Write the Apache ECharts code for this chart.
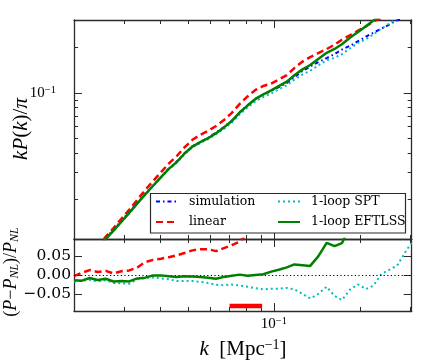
<!DOCTYPE html>
<html><head><meta charset="utf-8">
<script src="https://cdn.jsdelivr.net/npm/echarts@6/dist/echarts.min.js"></script>
<style>html,body{margin:0;padding:0;background:#fff}#c{width:436px;height:363px}</style>
</head><body><div id="c"></div>
<script>
// ---- data ----
const k = [0.0200,0.0213,0.0227,0.0242,0.0258,0.0275,0.0293,0.0312,0.0333,0.0355,0.0378,0.0403,0.0429,0.0457,0.0487,0.0519,0.0553,0.0589,0.0628,0.0669,0.0713,0.0760,0.0809,0.0862,0.0919,0.0979,0.104,0.111,0.118,0.126,0.134,0.143,0.153,0.163,0.173,0.185,0.197,0.210,0.223,0.238,0.254,0.270,0.288,0.303];
const simulation = [0.0066,0.0075,0.0085,0.0097,0.0111,0.0127,0.0145,0.0166,0.0190,0.0217,0.0246,0.0280,0.0318,0.0353,0.0401,0.0446,0.0477,0.0507,0.0549,0.0596,0.0655,0.0744,0.0826,0.0911,0.0975,0.1027,0.1091,0.1159,0.1268,0.1388,0.1485,0.1589,0.1688,0.1792,0.1918,0.2037,0.2180,0.2330,0.2480,0.2630,0.2810,0.2990,0.3150,0.3240];
const linear = [0.00675,0.00767,0.0087,0.00992,0.01136,0.01299,0.01494,0.0171,0.01987,0.02305,0.02632,0.03018,0.03428,0.03834,0.04387,0.04919,0.05299,0.05633,0.06055,0.06622,0.07388,0.08452,0.09458,0.1043,0.1108,0.1149,0.1221,0.1307,0.1452,0.1602,0.1714,0.1819,0.1933,0.2068,0.2229,0.2385,0.2553,0.2728,0.2926,0.3103,0.3316,0.3528,0.3717,0.3823];
const oneLoopSPT = [0.00648,0.00739,0.00839,0.00954,0.01094,0.01243,0.01418,0.01622,0.01875,0.0215,0.0244,0.02775,0.03145,0.03474,0.03946,0.04389,0.04684,0.04964,0.05347,0.05799,0.06386,0.07232,0.08004,0.08791,0.0938,0.099,0.1052,0.112,0.122,0.1319,0.1393,0.151,0.1636,0.1693,0.1791,0.196,0.2126,0.2244,0.2411,0.2638,0.2849,0.3065,0.3339,0.3515];
const oneLoopEFT = [0.00651,0.00739,0.00843,0.00957,0.01099,0.01248,0.01427,0.01632,0.01883,0.02157,0.02458,0.02797,0.0317,0.03512,0.03998,0.04442,0.04746,0.05035,0.05435,0.0593,0.06537,0.07447,0.08243,0.0911,0.0977,0.1036,0.1106,0.1182,0.1304,0.1424,0.1521,0.1667,0.1828,0.1937,0.2081,0.2302,0.2507,0.2726,0.2976,0.3235,0.3541,0.3857,0.4158,0.4342];
const linearRatio = [-0.003,0.006,0.013,0.008,0.011,0.004,0.010,0.012,0.020,0.034,0.040,0.043,0.047,0.052,0.058,0.065,0.068,0.068,0.063,0.071,0.079,0.088,0.110,0.130,0.130,0.120,0.120,0.130,0.140,0.150,0.150,0.150,0.150,0.160,0.160,0.170,0.170,0.170,0.180,0.180,0.180,0.180,0.180,0.180];
const sptRatio = [-0.018,-0.015,-0.013,-0.017,-0.014,-0.021,-0.022,-0.023,-0.011,-0.008,-0.006,-0.009,-0.011,-0.016,-0.016,-0.016,-0.018,-0.021,-0.026,-0.027,-0.025,-0.028,-0.031,-0.035,-0.038,-0.036,-0.036,-0.034,-0.038,-0.050,-0.062,-0.050,-0.031,-0.055,-0.066,-0.038,-0.025,-0.037,-0.028,0.003,0.014,0.025,0.060,0.085];
const eftRatio = [-0.014,-0.015,-0.008,-0.013,-0.010,-0.017,-0.016,-0.017,-0.009,-0.007,-0.001,-0.001,-0.003,-0.005,-0.003,-0.004,-0.005,-0.007,-0.010,-0.005,-0.002,0.001,-0.002,0.000,0.002,0.009,0.014,0.020,0.028,0.026,0.024,0.049,0.085,0.076,0.084,0.130,0.150,0.170,0.200,0.230,0.260,0.290,0.320,0.340];
const bandK = [0.07, 0.091];
const bandLevel = -0.082;
const xMajorTicks = [0.1];
const xMinorTicks = [0.03,0.04,0.05,0.06,0.07,0.08,0.09,0.2,0.3];
const yTopMajorTicks = [0.1];
const yTopMinorTicks = [0.02,0.03,0.04,0.05,0.06,0.07,0.08,0.09,0.2];
const yBottomTicks = [-0.05, 0, 0.05];

// ---- styling / layout ----
const FRAME = '#2b2b2b';
const XMIN = 0.02, XMAX = 0.3035;
const G0 = {left:74, top:20, width:337.7, height:219};
const G1 = {left:74, top:239, width:337.7, height:72};
const serifCM = 'Liberation Serif';
const serif = 'DejaVu Serif';
const pair = ys => k.map((kv, i) => [kv, ys[i]]);
const logLabel = v => '{b|10}{s|' + String(Math.round(Math.log10(v))).replace('-', '\u2212') + '}';
const logRich = {
  b: {fontFamily: serifCM, fontSize: 15, color: '#000', lineHeight: 16},
  s: {fontFamily: serifCM, fontSize: 10.5, color: '#000', lineHeight: 10, verticalAlign: 'top'}
};

function axisBase(type, grid, position, ticks, len, main, range) {
  return {
    type: type, gridIndex: grid, position: position, min: range[0], max: range[1],
    axisLine: {show: main, onZero: false, lineStyle: {color: FRAME, width: 1.3}},
    axisTick: {show: true, inside: true, length: len, customValues: ticks, lineStyle: {color: FRAME, width: 1}},
    axisLabel: {show: false}, splitLine: {show: false},
    minorTick: {show: false}, minorSplitLine: {show: false}
  };
}

const xAxes = [
  axisBase('log', 0, 'bottom', xMajorTicks, 8, true, [XMIN, XMAX]),
  axisBase('log', 0, 'bottom', xMinorTicks, 4, false, [XMIN, XMAX]),
  axisBase('log', 0, 'top', xMajorTicks, 8, true, [XMIN, XMAX]),
  axisBase('log', 0, 'top', xMinorTicks, 4, false, [XMIN, XMAX]),
  axisBase('log', 1, 'bottom', xMajorTicks, 8, true, [XMIN, XMAX]),
  axisBase('log', 1, 'bottom', xMinorTicks, 4, false, [XMIN, XMAX]),
  axisBase('log', 1, 'top', xMajorTicks, 8, true, [XMIN, XMAX]),
  axisBase('log', 1, 'top', xMinorTicks, 4, false, [XMIN, XMAX])
];
xAxes[4].axisLabel = {show: true, customValues: xMajorTicks, formatter: logLabel, margin: 5, rich: logRich};

const yAxes = [
  axisBase('log', 0, 'left', yTopMajorTicks, 8, true, [0.011, 0.3]),
  axisBase('log', 0, 'left', yTopMinorTicks, 4, false, [0.011, 0.3]),
  axisBase('log', 0, 'right', yTopMajorTicks, 8, true, [0.011, 0.3]),
  axisBase('log', 0, 'right', yTopMinorTicks, 4, false, [0.011, 0.3]),
  axisBase('value', 1, 'left', yBottomTicks, 8, true, [-0.095, 0.095]),
  axisBase('value', 1, 'right', yBottomTicks, 8, true, [-0.095, 0.095])
];
yAxes[0].axisLabel = {show: true, customValues: yTopMajorTicks, formatter: logLabel, margin: 18, rich: logRich};
yAxes[4].axisLabel = {show: true, customValues: yBottomTicks, margin: 3,
  fontFamily: serif, fontSize: 15.5, color: '#000',
  formatter: v => (v < 0 ? '\u2212' : '') + Math.abs(v).toFixed(2)};

const styles = {
  simulation: {color: '#0000ff', width: 2, type: [4, 3, 1.5, 3]},
  linear: {color: '#ff0000', width: 2.5, type: [7, 4]},
  spt: {color: '#00bfbf', width: 2, type: [2, 3]},
  eft: {color: '#008000', width: 2.5, type: 'solid'}
};
function lineSeries(name, data, st, xi, yi, z) {
  return {name: name, type: 'line', xAxisIndex: xi, yAxisIndex: yi, data: data, symbol: 'none',
    lineStyle: {color: st.color, width: st.width, type: st.type}, itemStyle: {color: st.color},
    z: z, silent: true, animation: false};
}

const series = [
  lineSeries('simulation', pair(simulation), styles.simulation, 0, 0, 2),
  lineSeries('linear', pair(linear), styles.linear, 0, 0, 3),
  lineSeries('1-loop SPT', pair(oneLoopSPT), styles.spt, 0, 0, 4),
  lineSeries('1-loop EFTLSS', pair(oneLoopEFT), styles.eft, 0, 0, 5),
  lineSeries('linear', pair(linearRatio), styles.linear, 4, 4, 3),
  lineSeries('1-loop SPT', pair(sptRatio), styles.spt, 4, 4, 4),
  lineSeries('1-loop EFTLSS', pair(eftRatio), styles.eft, 4, 4, 5),
  {type: 'line', xAxisIndex: 4, yAxisIndex: 4, symbol: 'none', silent: true, animation: false, z: 2,
   data: [], markLine: {silent: true, symbol: ['none', 'none'], label: {show: false}, animation: false,
     lineStyle: {color: '#000', type: [1.2, 2.4], width: 1}, data: [{yAxis: 0}]}},
  {type: 'line', xAxisIndex: 4, yAxisIndex: 4, symbol: 'none', silent: true, animation: false, z: 6,
   data: bandK.map(v => [v, bandLevel]), lineStyle: {color: '#ff0000', width: 4.5}}
];

const legendCommon = {orient: 'vertical', top: 195, itemWidth: 22, itemHeight: 10, itemGap: 7.5,
  textStyle: {fontFamily: serif, fontSize: 12.5, color: '#000', padding: [0, 0, 0, 6]},
  itemStyle: {opacity: 0}, selectedMode: false, z: 20, padding: 0};

const option = {
  animation: false,
  backgroundColor: '#fff',
  textStyle: {fontFamily: serif},
  grid: [Object.assign({outerBoundsMode: 'none', containLabel: false}, G0),
         Object.assign({outerBoundsMode: 'none', containLabel: false}, G1)],
  xAxis: xAxes,
  yAxis: yAxes,
  legend: [
    Object.assign({left: 155, data: ['simulation', 'linear']}, legendCommon),
    Object.assign({left: 277, data: ['1-loop SPT', '1-loop EFTLSS']}, legendCommon)
  ],
  graphic: [
    {type: 'rect', z: 10, shape: {x: 150.5, y: 193.5, width: 255, height: 39.5},
     style: {fill: '#fff', stroke: FRAME, lineWidth: 1.2}},
    {type: 'text', z: 10, x: 243, y: 349, style: {
      text: '{i|k}{n|  [Mpc}{s|\u22121}{n|]}', align: 'center', verticalAlign: 'middle',
      rich: {i: {fontFamily: serifCM, fontStyle: 'italic', fontSize: 21, lineHeight: 22},
             n: {fontFamily: serifCM, fontSize: 21, lineHeight: 22},
             s: {fontFamily: serifCM, fontSize: 14, lineHeight: 13, verticalAlign: 'top'}}}},
    {type: 'text', z: 10, x: 21, y: 129, rotation: Math.PI / 2, style: {
      text: '{i|kP}{n|(}{i|k}{n|)/}{i|\u03c0}', align: 'center', verticalAlign: 'middle',
      rich: {i: {fontFamily: serifCM, fontStyle: 'italic', fontSize: 21},
             n: {fontFamily: serifCM, fontSize: 21}}}},
    {type: 'text', z: 10, x: 11, y: 272, rotation: Math.PI / 2, style: {
      text: '{n|(}{i|P}{n|\u2212}{i|P}{sub|NL}{n|)/}{i|P}{sub|NL}', align: 'center', verticalAlign: 'middle',
      rich: {i: {fontFamily: serifCM, fontStyle: 'italic', fontSize: 18, lineHeight: 20},
             n: {fontFamily: serifCM, fontSize: 18, lineHeight: 20},
             sub: {fontFamily: serifCM, fontStyle: 'italic', fontSize: 12, lineHeight: 12, verticalAlign: 'bottom'}}}}
  ],
  series: series
};

const chart = echarts.init(document.getElementById('c'), null, {renderer: 'canvas'});
chart.setOption(option);
</script>
</body></html>
